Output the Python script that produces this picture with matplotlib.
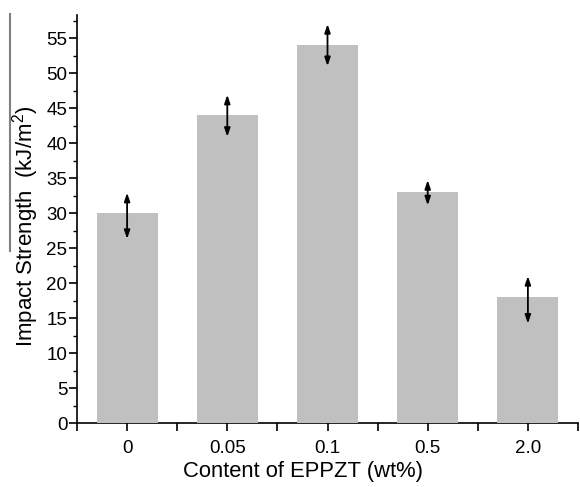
import matplotlib
matplotlib.use("Agg")
import matplotlib.pyplot as plt
from matplotlib.ticker import MultipleLocator, FixedLocator
from matplotlib.lines import Line2D
import numpy as np

# ---- data ----
categories = ['0', '0.05', '0.1', '0.5', '2.0']
values = [30, 44, 54, 33, 18]
err_low = [26.3, 40.9, 51.0, 31.1, 14.2]
err_high = [32.9, 46.9, 57.0, 34.7, 21.0]

plt.rcParams['font.family'] = ['Liberation Sans', 'DejaVu Sans']
plt.rcParams['mathtext.fontset'] = 'custom'
plt.rcParams['mathtext.rm'] = 'Liberation Sans'
plt.rcParams['mathtext.it'] = 'Liberation Sans'

fig = plt.figure(figsize=(5.8, 4.87), dpi=100)
ax = fig.add_axes([77/580, 1-423/487, 501/580, 408/487])

x = np.arange(len(categories))
ax.bar(x, values, width=0.61, color='#c0c0c0', zorder=3)

for xi, lo, hi in zip(x, err_low, err_high):
    ax.annotate('', xy=(xi, hi), xytext=(xi, lo),
                arrowprops=dict(arrowstyle='<|-|>,head_length=0.5,head_width=0.17',
                                color='black', lw=1.3, shrinkA=0, shrinkB=0),
                zorder=4)

ax.set_xlim(-0.5, 4.5)
ax.set_ylim(0, 58.3)

ax.set_xticks(x)
ax.set_xticklabels(categories)
ax.xaxis.set_minor_locator(FixedLocator(np.arange(-0.5, 4.51, 1.0)))
ax.yaxis.set_major_locator(MultipleLocator(5))
ax.yaxis.set_minor_locator(MultipleLocator(2.5))

for s in ['top', 'right']:
    ax.spines[s].set_visible(False)
for s in ['left', 'bottom']:
    ax.spines[s].set_linewidth(1.2)
    ax.spines[s].set_zorder(2)

ax.tick_params(axis='x', which='both', direction='out', length=6, width=1.2,
               labelsize=13.5, pad=6.5)
ax.tick_params(axis='y', which='major', direction='out', length=5.5, width=1.2,
               labelsize=13.5, pad=1.5)
ax.tick_params(axis='y', which='minor', direction='out', length=3, width=1.0)

ax.set_xlabel('Content of EPPZT (wt%)', fontsize=15.8)
ax.set_ylabel('Impact Strength  (kJ/m$^{2}$)', fontsize=16)
ax.xaxis.set_label_coords(0.451, -0.093)
ax.yaxis.set_label_coords(-0.072, 0.483)

# thin grey vertical line at the far left (present in the reference picture)
fig.add_artist(Line2D([10/580, 10/580], [1-14/487, 1-251/487],
                      transform=fig.transFigure, color='#808080', lw=1.5))

fig.savefig('out.png', dpi=100)
